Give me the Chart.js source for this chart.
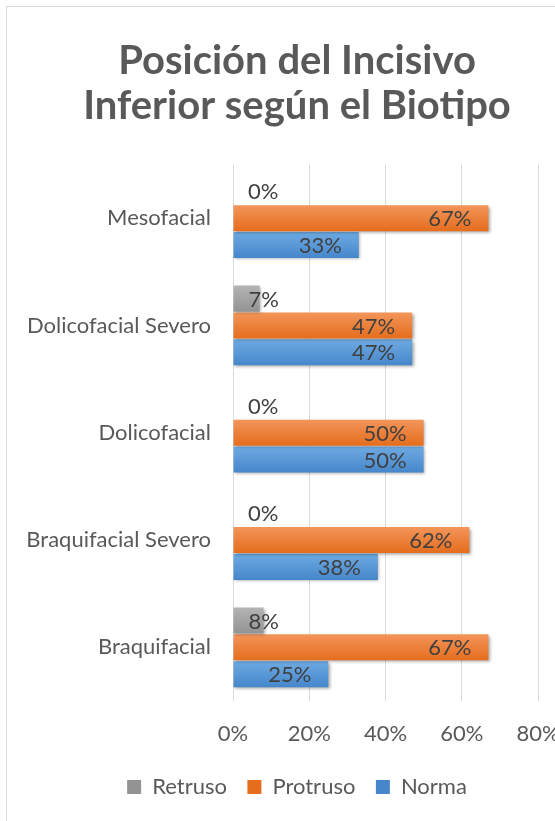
<!DOCTYPE html>
<html>
<head>
<meta charset="utf-8">
<script src="https://cdn.jsdelivr.net/npm/chart.js@4.4.0/dist/chart.umd.min.js"></script>
<style>
 html, body { margin: 0; padding: 0; background: #ffffff; overflow: hidden; }
 #marco { position: absolute; left: 6px; top: 6px; width: 582px; height: 830px;
          border: 1px solid #d9d9d9; background: #ffffff; }
 #grafico { display: block; }
</style>
</head>
<body>
<div id="marco"><canvas id="grafico" width="580" height="828"></canvas></div>
<script>
 var categorias = [ "Mesofacial", "Dolicofacial Severo", "Dolicofacial", "Braquifacial Severo", "Braquifacial" ];
 var retruso    = [ 0, 7, 0, 0, 8 ];
 var protruso   = [ 67, 47, 50, 62, 67 ];
 var norma      = [ 33, 47, 50, 38, 25 ];
 var ticksX     = [ 0, 20, 40, 60, 80 ];
 var titulo     = [ "Posición del Incisivo", "Inferior según el Biotipo" ];

/******************************** Degradé vertical par barre (clair en haut, foncé en bas) ***********************************/
 function Degrade ( clair, fonce, plat )
  { return function ( context )
     { if (context.dataIndex === undefined) return plat;
       var el = context.chart.getDatasetMeta(context.datasetIndex).data[context.dataIndex];
       if (!el || el.height === undefined || isNaN(el.y)) return plat;
       var g = context.chart.ctx.createLinearGradient ( 0, el.y - el.height/2, 0, el.y + el.height/2 );
       g.addColorStop ( 0, clair );
       g.addColorStop ( 1, fonce );
       return g;
     };
  }

/******************************** Ombre des barres + étiquettes de valeurs *************************************************/
 var pluginEtiquettes =
  { id: "etiquettes",
    beforeDatasetsDraw: function (chart)
     { var ctx = chart.ctx;
       ctx.save();
       ctx.shadowColor = "rgba(0,0,0,0.35)";
       ctx.shadowBlur = 3;
       ctx.shadowOffsetX = 1.5;
       ctx.shadowOffsetY = 1.5;
     },
    afterDatasetsDraw: function (chart)
     { var ctx = chart.ctx;
       ctx.restore();
       ctx.save();
       ctx.font = "22px Lato";
       ctx.fillStyle = "#404040";
       ctx.textAlign = "right";
       ctx.textBaseline = "middle";
       chart.data.datasets.forEach( function (ds, i)
        { chart.getDatasetMeta(i).data.forEach( function (bar, j)
           { var txt = ds.data[j] + "%";
             var w = ctx.measureText(txt).width;
             var x = Math.max ( bar.x - 17, bar.base + 15 + w );
             ctx.fillText ( txt, x, bar.y + 1 );
           });
        });
       ctx.restore();
     }
  };

 var police = { family: "Lato", size: 22 };

 var grafico = new Chart ( document.getElementById("grafico"),
  { type: "bar",
    data: { labels: categorias,
            datasets: [ { label: "Retruso",  data: retruso,
                          backgroundColor: Degrade ( "#b4b4b4", "#939393", "#a5a5a5" ) },
                        { label: "Protruso", data: protruso,
                          backgroundColor: Degrade ( "#f3955a", "#e56d1d", "#ed7d31" ) },
                        { label: "Norma",    data: norma,
                          backgroundColor: Degrade ( "#6eaae2", "#4687cb", "#5b9bd5" ) }
                      ]
          },
    options: { indexAxis: "y",
               responsive: false,
               animation: false,
               devicePixelRatio: 1,
               categoryPercentage: 0.75,
               barPercentage: 0.97,
               layout: { padding: { left: 0, right: 0, top: 0, bottom: 27 } },
               scales: { x: { min: 0, max: 80,
                              afterBuildTicks: function (scale) { scale.ticks = ticksX.map( function (v) { return { value: v }; } ); },
                              ticks: { callback: function (v) { return v + "%"; },
                                       color: "#595959", font: police, padding: 20 },
                              grid: { color: "#d9d9d9", lineWidth: 1, drawTicks: false },
                              border: { display: false },
                              afterFit: function (scale) { scale.height = 54.5; }
                            },
                         y: { ticks: { color: "#595959", font: police, padding: 22 },
                              grid: { display: false, drawTicks: false },
                              border: { display: false },
                              afterFit: function (scale) { scale.width = 226; }
                            },
                         marge: { type: "category", axis: "y", position: "right",
                                  ticks: { display: false },
                                  grid: { display: false, drawTicks: false },
                                  border: { display: false },
                                  afterFit: function (scale) { scale.width = 49; }
                                }
                       },
               plugins: { title: { display: true, text: titulo, color: "#595959",
                                   font: { family: "Lato", size: 40, weight: "bold", lineHeight: 1.125 },
                                   padding: { top: 31.5, bottom: 36 } },
                          legend: { position: "bottom",
                                    labels: { color: "#595959", font: police, boxWidth: 14, boxHeight: 14, padding: 20.5 } },
                          tooltip: { enabled: false }
                        }
             },
    plugins: [ pluginEtiquettes ]
  });
 grafico.update("none");
</script>
</body>
</html>
